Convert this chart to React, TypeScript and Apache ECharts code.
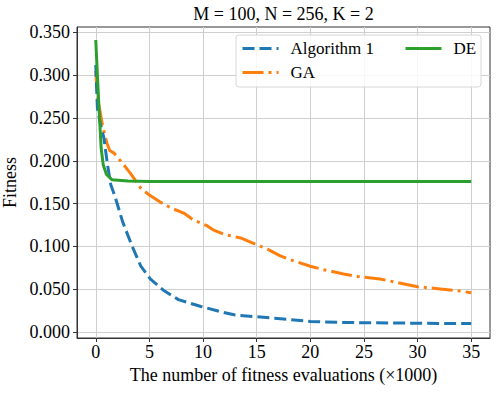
import React, { useEffect, useRef } from "react";
import * as echarts from "echarts";

const algX = [0, 0.15, 0.4, 0.75, 1.1, 1.4, 1.8, 2.5, 3.4, 4.2, 5.1, 6.3, 7.7, 9.8, 11.6, 13, 15, 17.5, 20, 22.5, 25, 27.5, 30, 32.5, 35];
const algY = [0.312, 0.262, 0.245, 0.227, 0.195, 0.172, 0.158, 0.129, 0.1, 0.077, 0.062, 0.049, 0.038, 0.03, 0.024, 0.02, 0.018, 0.0155, 0.0125, 0.0115, 0.011, 0.0107, 0.0105, 0.0102, 0.01];

const gaX = [0, 0.1, 0.3, 0.62, 1.0, 1.3, 1.7, 2.3, 3.2, 4.2, 5.0, 6.0, 7.0, 8.2, 9.1, 10.4, 11.0, 12.0, 13.5, 15.0, 16.0, 17.2, 18.5, 20.0, 21.2, 23.1, 24.4, 26.5, 28.1, 30.0, 32.1, 34.0, 35];
const gaY = [0.305, 0.285, 0.265, 0.242, 0.222, 0.212, 0.209, 0.2, 0.186, 0.168, 0.16, 0.152, 0.145, 0.139, 0.131, 0.124, 0.119, 0.114, 0.11, 0.102, 0.097, 0.089, 0.083, 0.077, 0.073, 0.068, 0.065, 0.062, 0.058, 0.053, 0.0505, 0.048, 0.046];

const deX = [0, 0.15, 0.3, 0.5, 0.7, 1.0, 1.5, 3, 5, 35];
const deY = [0.341, 0.3, 0.262, 0.215, 0.195, 0.184, 0.178, 0.1765, 0.176, 0.176];

const xTicks = [0, 5, 10, 15, 20, 25, 30, 35];
const yTicks = [0, 0.05, 0.1, 0.15, 0.2, 0.25, 0.3, 0.35];

const seriesNames = ["Algorithm 1", "GA", "DE"];
const colors = ["#1f77b4", "#ff7f0e", "#2ca02c"];
const dashes: any[] = [[12, 5], [21, 5, 3, 5], "solid"];

const FONT = "'Liberation Serif', 'Times New Roman', serif";

const zip = (xs: number[], ys: number[]) => xs.map((x, i) => [x, ys[i]]);

export default function App() {
  const ref = useRef<HTMLDivElement>(null);
  useEffect(() => {
    if (!ref.current) return;
    const chart = echarts.init(ref.current, undefined, { renderer: "svg" });
    const ts = { fontFamily: FONT, fontSize: 18, color: "#000" };
    const mk = (i: number, data: number[][]) => ({
      name: seriesNames[i],
      type: "line",
      data,
      symbol: "none",
      showSymbol: false,
      clip: true,
      z: i === 2 ? 4 : 3 - i,
      lineStyle: { color: colors[i], width: 3, type: dashes[i], cap: "butt", join: "round" },
      itemStyle: { color: colors[i] },
    });
    const leg = (i: number, left: number, top: number, pad: number) => ({
      data: [seriesNames[i]],
      left,
      top,
      padding: 0,
      itemWidth: 36,
      itemHeight: 14,
      z: 60,
      itemStyle: { opacity: 0 },
      lineStyle: { color: colors[i], width: 3, type: dashes[i], cap: "butt" },
      textStyle: { fontFamily: FONT, fontSize: 17, color: "#000", padding: [0, 0, 0, pad] },
    });
    chart.setOption({
      animation: false,
      backgroundColor: "#fff",
      textStyle: { fontFamily: FONT },
      title: {
        text: "M = 100, N = 256, K = 2",
        left: 283.5,
        top: 5,
        padding: 0,
        textAlign: "center",
        textStyle: { fontFamily: FONT, fontSize: 18, color: "#000", fontWeight: "normal" },
      },
      grid: {
        left: 77,
        top: 27,
        width: 413,
        height: 311,
        containLabel: false,
        outerBoundsMode: "none",
        show: true,
        borderColor: "#333",
        borderWidth: 1,
        backgroundColor: "transparent",
      },
      graphic: [
        {
          type: "rect",
          z: 50,
          shape: { x: 236, y: 35, width: 245, height: 52, r: 3 },
          style: { fill: "rgba(255,255,255,0.85)", stroke: "#d6d6d6", lineWidth: 1 },
        },
      ],
      legend: [leg(0, 241, 40, 7), leg(1, 241, 64, 7), leg(2, 404, 40, 7)],
      xAxis: {
        type: "value",
        min: -1.75,
        max: 36.75,
        splitNumber: 8,
        name: "The number of fitness evaluations (×1000)",
        nameLocation: "middle",
        nameGap: 27,
        nameTextStyle: ts,
        axisLine: { show: true, onZero: false, lineStyle: { color: "#333", width: 1 } },
        axisTick: { show: true, length: 4, customValues: xTicks, lineStyle: { color: "#333" } },
        axisLabel: {
          ...ts,
          margin: 5,
          customValues: xTicks,
          formatter: (v: number) => String(Math.round(v)),
        },
        splitLine: { show: true, lineStyle: { color: "#cfcfcf", width: 1 } },
      },
      yAxis: {
        type: "value",
        min: -0.0068,
        max: 0.3562,
        splitNumber: 7,
        name: "Fitness",
        nameLocation: "middle",
        nameGap: 54,
        nameTextStyle: ts,
        axisLine: { show: true, onZero: false, lineStyle: { color: "#333", width: 1 } },
        axisTick: { show: true, length: 4, customValues: yTicks, lineStyle: { color: "#333" } },
        axisLabel: {
          ...ts,
          margin: 7,
          customValues: yTicks,
          formatter: (v: number) => v.toFixed(3),
        },
        splitLine: { show: true, lineStyle: { color: "#cfcfcf", width: 1 } },
      },
      series: [mk(0, zip(algX, algY)), mk(1, zip(gaX, gaY)), mk(2, zip(deX, deY))],
    });
    return () => chart.dispose();
  }, []);
  return <div ref={ref} style={{ width: 498, height: 393, position: "absolute", left: 0, top: 0 }} />;
}
